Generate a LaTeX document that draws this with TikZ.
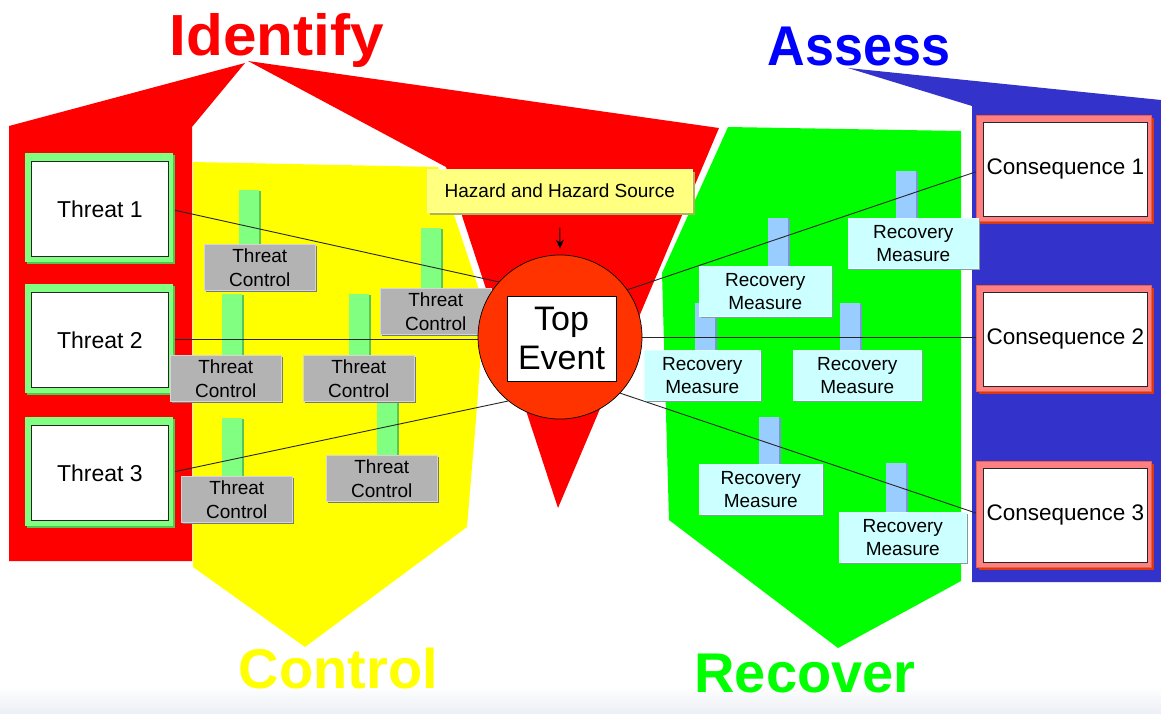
\documentclass[tikz,border=0pt]{standalone}
\usepackage{fontspec}
\setmainfont{Liberation Sans}
\usetikzlibrary{arrows.meta,calc}
\definecolor{idred}{HTML}{FF0000}
\definecolor{ctlyellow}{HTML}{FFFF00}
\definecolor{recgreen}{HTML}{00FF00}
\definecolor{assblue}{HTML}{3333CC}
\definecolor{titleblue}{HTML}{0000FF}
\definecolor{tframe}{HTML}{80FF80}
\definecolor{tframesh}{HTML}{4FC84F}
\definecolor{cframe}{HTML}{FF8080}
\definecolor{cframesh}{HTML}{D93A10}
\definecolor{tcgray}{HTML}{B3B3B3}
\definecolor{tcgraysh}{HTML}{777777}
\definecolor{tcpost}{HTML}{80FF80}
\definecolor{tcpostsh}{HTML}{5CC45C}
\definecolor{rmcyan}{HTML}{CCFFFF}
\definecolor{rmcyansh}{HTML}{7F9F9F}
\definecolor{rmpost}{HTML}{99CCFF}
\definecolor{rmpostsh}{HTML}{7799CC}
\definecolor{hzyellow}{HTML}{FFFF80}
\definecolor{hzyellowsh}{HTML}{B3B34D}
\definecolor{topred}{HTML}{FF3300}
\definecolor{bandgray}{HTML}{ECEFF5}
\pgfdeclarelayer{regions}
\pgfdeclarelayer{posts}
\pgfdeclarelayer{lines}
\pgfsetlayers{regions,posts,lines,main}
\tikzset{
  titletext/.style={inner sep=0pt, anchor=base, font=\fontsize{56}{60}\selectfont\bfseries},
  threatn/.style={draw=black!85, line width=0.8pt, fill=white, minimum width=137pt, minimum height=95pt, inner sep=0pt, font=\fontsize{23}{27}\selectfont},
  consn/.style={draw=black!85, line width=0.8pt, fill=white, minimum width=164pt, minimum height=94pt, inner sep=0pt, font=\fontsize{22.5}{27}\selectfont},
  tcn/.style={fill=tcgray, draw=tcgray!55!white, line width=0.6pt, minimum width=111pt, minimum height=46pt, inner sep=0pt, align=center, font=\fontsize{19}{24}\selectfont},
  rmn/.style={fill=rmcyan, draw=rmcyan!60!white, line width=0.6pt, minimum height=50pt, inner sep=0pt, align=center, font=\fontsize{19}{23}\selectfont},
  hzn/.style={fill=hzyellow, draw=hzyellow!60!white, line width=0.6pt, minimum width=265pt, minimum height=43pt, inner sep=0pt, font=\fontsize{19}{23}\selectfont},
  link/.style={line width=0.9pt, draw=black!85},
}
\newcommand{\mythreat}[3]{%
  \fill[tframesh] (27,#2-6) rectangle (175,#2+103);
  \fill[tframe] (25,#2-8) rectangle (173,#2+101);
  \node[threatn, anchor=north west] (#1) at (31,#2) {#3};}
\newcommand{\mycons}[3]{%
  \fill[cframesh] (979,#2-4) rectangle (1154,#2+102);
  \fill[cframe, draw=cframesh!50!cframe, line width=0.6pt] (976,#2-7) rectangle (1151,#2+99);
  \node[consn, anchor=north west] (#1) at (983,#2) {#3};}
\newcommand{\mytc}[5]{%
  \begin{pgfonlayer}{posts}
  \fill[tcpostsh] (#4+2,#5+1) rectangle (#4+22,#3);
  \fill[tcpost] (#4,#5) rectangle (#4+20,#3);
  \end{pgfonlayer}
  \fill[tcgraysh] (#2+2,#3+2) rectangle (#2+113,#3+48);
  \node[tcn, anchor=north west] (#1) at (#2,#3) {Threat\\Control};}
\newcommand{\myrm}[6]{%
  \begin{pgfonlayer}{posts}
  \fill[rmpostsh] (#5+2,#6+1) rectangle (#5+22,#3);
  \fill[rmpost] (#5,#6) rectangle (#5+20,#3);
  \end{pgfonlayer}
  \fill[rmcyansh] (#2+2,#3+2) rectangle (#2+#4+2,#3+52);
  \node[rmn, minimum width=#4pt, anchor=north west] (#1) at (#2,#3) {Recovery\\Measure};}
\begin{document}
\begin{tikzpicture}[x=1pt,y=-1pt]
\useasboundingbox (0,0) rectangle (1161,713);
\begin{pgfonlayer}{regions}
  \fill[white] (0,0) rectangle (1161,713);
  \shade[top color=white, bottom color=bandgray] (0,686) rectangle (1161,713);
  % Identify (red)
  \fill[idred] (9,126) -- (245,63) -- (192,127) -- (192,561) -- (9,561) -- cycle;
  \fill[idred] (248,61) -- (719,128) -- (558,508) -- (446,167) -- cycle;
  % Control (yellow)
  \fill[ctlyellow] (193,162) -- (438,167) -- (484,305) -- (477,407) -- (467,527) -- (305,647) -- (193,567) -- cycle;
  % Recover (green)
  \fill[recgreen] (728,127) -- (961,131) -- (961,581) -- (838,648) -- (669,520) -- (662,273) -- cycle;
  % Assess (blue)
  \fill[assblue] (848,68) -- (1161,100) -- (1161,582) -- (972,582) -- (972,106) -- cycle;
\end{pgfonlayer}

% titles
\node[titletext, text=idred, font=\fontsize{58}{60}\selectfont\bfseries, xscale=1.04] (identify) at (277,55) {Identify};
\node[titletext, text=titleblue, xscale=0.93] (assess) at (859,65) {Assess};
\node[titletext, text=ctlyellow] (control) at (338.5,688) {Control};
\node[titletext, text=recgreen] (recover) at (805,692) {Recover};

% threats
\mythreat{t1}{161}{Threat 1}
\mythreat{t2}{292}{Threat 2}
\mythreat{t3}{425}{Threat 3}

% consequences
\mycons{c1}{122}{Consequence 1}
\mycons{c2}{292}{Consequence 2}
\mycons{c3}{468}{Consequence 3}

% threat controls
\mytc{tc1}{204}{244}{239}{190}
\mytc{tc2}{380}{288}{421}{228}
\mytc{tc3}{170}{355}{222}{294}
\mytc{tc4}{303}{355}{349}{294}
\mytc{tc5}{326}{455}{377}{398}
\mytc{tc6}{181}{476}{222}{418}

% recovery measures
\myrm{rm1}{848}{218}{130}{896}{171}
\myrm{rm2}{699}{266}{132}{768}{218}
\myrm{rm3}{644}{350}{116}{695}{303}
\myrm{rm4}{793}{350}{128}{840}{303}
\myrm{rm5}{699}{464}{123}{759}{417}
\myrm{rm6}{839}{512}{127}{886}{463}

% top event
\node[circle, fill=topred, draw=black, line width=0.7pt, minimum size=164pt, inner sep=0pt] (top) at (560,337) {};
\node[draw=black, line width=0.8pt, fill=white, minimum width=109pt, minimum height=85pt, inner sep=0pt, align=center, font=\fontsize{34}{39}\selectfont] (topbox) at (561.5,338.5) {Top\\Event};

% hazard
\fill[hzyellowsh] (430,172) rectangle (695,215);
\node[hzn, anchor=north west] (hz) at (427,169) {Hazard and Hazard Source};
\draw[-{Stealth[length=9pt,width=8pt]}, line width=1pt] ($(hz.south)+(0,15)$) -- ($(top.north)+(0,-6)$);

% connectors
\begin{pgfonlayer}{lines}
  \draw[link] (t1.east) -- (top.138);
  \draw[link] (t2.east) -- (t2.east -| top.west);
  \draw[link] (t3.east) -- (top.231);
  \draw[link] (top.35) -- (c1.west);
  \draw[link] (top.east) -- (top.east -| c2.west);
  \draw[link] (top.-43) -- (c3.west);
\end{pgfonlayer}
\end{tikzpicture}
\end{document}
